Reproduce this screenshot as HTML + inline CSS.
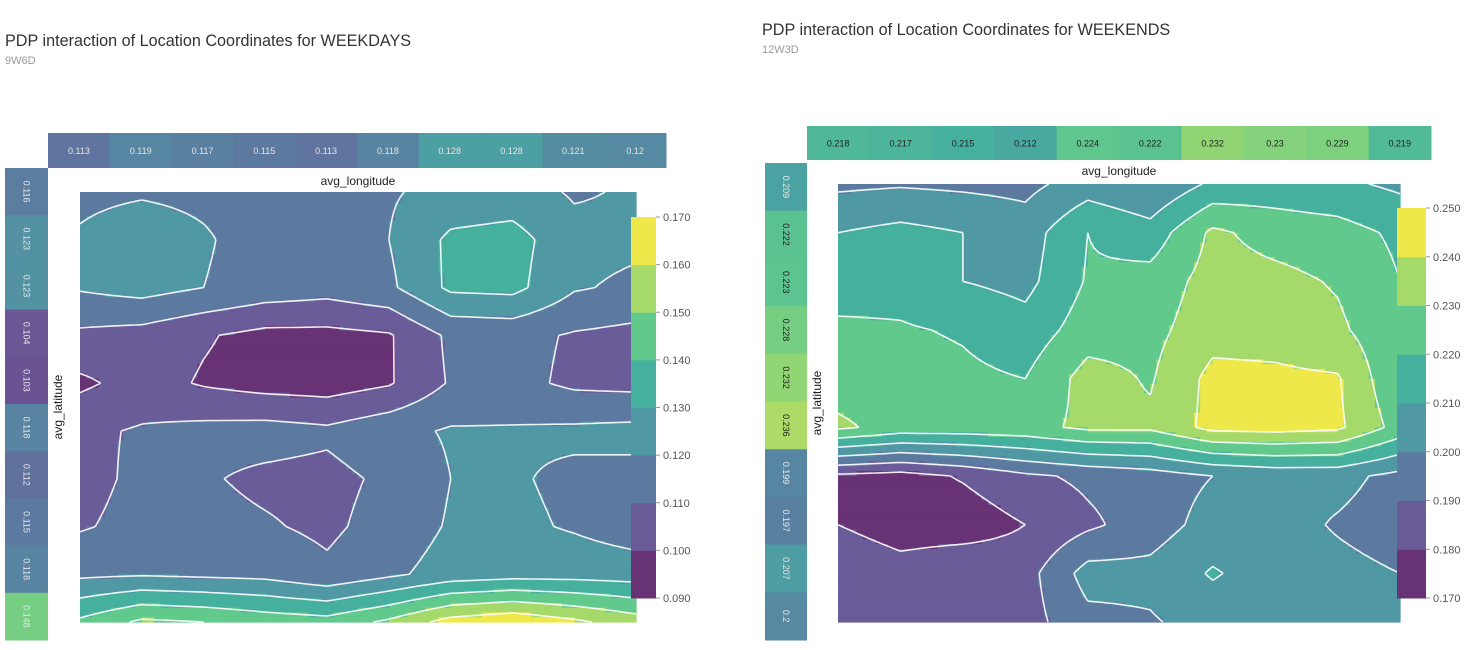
<!DOCTYPE html>
<html><head><meta charset="utf-8">
<style>
body{margin:0;background:#fff;width:1474px;height:650px;overflow:hidden;font-family:"Liberation Sans","DejaVu Sans",sans-serif;}
svg{position:absolute;left:0;top:0;}
</style></head>
<body>
<svg id="s" width="1474" height="650" xmlns="http://www.w3.org/2000/svg">
<text x="5" y="46" font-size="16.2" fill="#333">PDP interaction of Location Coordinates for WEEKDAYS</text>
<text x="5" y="64" font-size="11" fill="#999">9W6D</text>
<text x="762" y="35" font-size="16.2" fill="#333">PDP interaction of Location Coordinates for WEEKENDS</text>
<text x="762" y="53" font-size="11" fill="#999">12W3D</text>
</svg>
<script>
const bandColors=['#673374','#6a5b99','#5c7aa0','#4f98a4','#46b09e','#62c98c','#a5da6a','#eee84a'];
const levelsL=[0.09,0.10,0.11,0.12,0.13,0.14,0.15,0.16,0.17];
const levelsR=[0.17,0.18,0.19,0.20,0.21,0.22,0.23,0.24,0.25];
const lonValsL=[0.113,0.119,0.117,0.115,0.113,0.118,0.128,0.128,0.121,0.12];
const latValsL=[0.116,0.123,0.123,0.104,0.103,0.118,0.112,0.115,0.118,0.148];
const lonValsR=[0.218,0.217,0.215,0.212,0.224,0.222,0.232,0.23,0.229,0.219];
const latValsR=[0.209,0.222,0.223,0.228,0.232,0.236,0.199,0.197,0.207,0.2];
const gridL=[
[0.118,0.119,0.118,0.117,0.116,0.119,0.123,0.124,0.119,0.121],
[0.121,0.125,0.121,0.116,0.116,0.120,0.132,0.134,0.123,0.122],
[0.121,0.124,0.120,0.116,0.114,0.118,0.132,0.133,0.121,0.118],
[0.108,0.106,0.101,0.097,0.097,0.099,0.112,0.113,0.109,0.107],
[0.098,0.104,0.099,0.096,0.095,0.099,0.111,0.113,0.108,0.107],
[0.108,0.111,0.113,0.114,0.112,0.117,0.121,0.121,0.122,0.123],
[0.107,0.112,0.111,0.108,0.107,0.112,0.120,0.121,0.118,0.117],
[0.109,0.113,0.113,0.111,0.108,0.114,0.121,0.122,0.119,0.115],
[0.118,0.119,0.118,0.117,0.112,0.118,0.124,0.126,0.126,0.125],
[0.142,0.152,0.150,0.146,0.144,0.152,0.164,0.168,0.162,0.155]];
const gridR=[
[0.198,0.199,0.198,0.197,0.205,0.200,0.212,0.214,0.212,0.208],
[0.210,0.213,0.210,0.205,0.220,0.214,0.232,0.226,0.224,0.218],
[0.215,0.216,0.210,0.207,0.221,0.224,0.234,0.233,0.229,0.220],
[0.222,0.221,0.219,0.214,0.225,0.227,0.236,0.236,0.232,0.222],
[0.225,0.224,0.222,0.220,0.234,0.229,0.243,0.242,0.241,0.221],
[0.232,0.226,0.226,0.227,0.232,0.232,0.243,0.244,0.242,0.226],
[0.178,0.176,0.181,0.188,0.192,0.195,0.200,0.203,0.203,0.197],
[0.180,0.174,0.174,0.180,0.188,0.195,0.204,0.204,0.199,0.195],
[0.190,0.185,0.189,0.186,0.204,0.203,0.211,0.205,0.203,0.200],
[0.187,0.186,0.184,0.186,0.197,0.199,0.204,0.203,0.202,0.203]];

const NS='http://www.w3.org/2000/svg';
const svg=document.getElementById('s');
function mk(tag,attrs,parent){const e=document.createElementNS(NS,tag);for(const k in attrs)e.setAttribute(k,attrs[k]);(parent||svg).appendChild(e);return e;}
function hex(c){return [parseInt(c.slice(1,3),16),parseInt(c.slice(3,5),16),parseInt(c.slice(5,7),16)];}
function contColor(v,lv){
  const t=(v-lv[0])/(lv[lv.length-1]-lv[0])*8-0.5;
  const i=Math.max(0,Math.min(7,Math.floor(t)));const j=Math.min(7,i+1);
  const f=Math.max(0,Math.min(1,t-i));
  const a=hex(bandColors[i]),b=hex(bandColors[j]);
  return 'rgb('+a.map((x,k)=>Math.round(x+(b[k]-x)*f)).join(',')+')';
}
function band(v,lv){for(let k=0;k<8;k++){if(v<lv[k+1])return Math.max(0,k);}return 7;}

function chart(cfg){
  const g=mk('g',{});
  
  
  const {grid,lv,x0,y0,w,h}=cfg;
  const n=grid.length,m=grid[0].length,S=10;
  const R=(n-1)*S,C=(m-1)*S;
  const val=(fi,fj)=>{const i=Math.min(n-2,Math.floor(fi/S)),j=Math.min(m-2,Math.floor(fj/S));
    const u=fi/S-i,v=fj/S-j;
    return grid[i][j]*(1-u)*(1-v)+grid[i][j+1]*(1-u)*v+grid[i+1][j]*u*(1-v)+grid[i+1][j+1]*u*v;};
  const F=[];for(let i=0;i<=R;i++){F.push([]);for(let j=0;j<=C;j++)F[i].push(val(i,j));}
  const cw=w/C,ch=h/R;
  const fills=mk('g',{},g);
  
  
  for(let i=0;i<R;i++){
    let start=0,cur=band((F[i][0]+F[i+1][0]+F[i][1]+F[i+1][1])/4,lv);
    for(let j=1;j<=C;j++){
      const b=j<C?band((F[i][j]+F[i+1][j]+F[i][j+1]+F[i+1][j+1])/4,lv):-1;
      if(b!==cur){
        mk('rect',{x:(x0+start*cw).toFixed(2),y:(y0+i*ch).toFixed(2),width:((j-start)*cw+0.6).toFixed(2),height:(ch+0.6).toFixed(2),fill:bandColors[cur]},fills);
        start=j;cur=b;
      }
    }
  }
  let d='';
  for(let k=1;k<lv.length-1;k++){
    const L=lv[k];
    for(let i=0;i<R;i++)for(let j=0;j<C;j++){
      const c=[[i,j],[i,j+1],[i+1,j+1],[i+1,j]];
      const pts=[];
      for(let e=0;e<4;e++){
        const p=c[e],q=c[(e+1)%4];const a=F[p[0]][p[1]],b=F[q[0]][q[1]];
        if((a<L)!==(b<L)){const t=(L-a)/(b-a);
          pts.push([x0+(p[1]+(q[1]-p[1])*t)*cw,y0+(p[0]+(q[0]-p[0])*t)*ch]);}
      }
      for(let e=0;e+1<pts.length;e+=2)d+='M'+pts[e][0].toFixed(1)+' '+pts[e][1].toFixed(1)+'L'+pts[e+1][0].toFixed(1)+' '+pts[e+1][1].toFixed(1);
    }
  }
  const lines=mk('path',{d:d,stroke:'#fff','stroke-width':1.6,fill:'none','stroke-opacity':0.9},g);
  
  
  const cb=cfg.cb;const bh=cb.h/8;
  for(let k=0;k<8;k++){
    const r=mk('rect',{x:cb.x,y:cb.y+cb.h-(k+1)*bh,width:cb.w,height:bh+0.5,fill:bandColors[k]},g);
    
    
  }
  for(let k=0;k<9;k++){
    const yy=cb.y+cb.h-k*bh;
    mk('line',{x1:cb.x+cb.w,x2:cb.x+cb.w+4,y1:yy,y2:yy,stroke:'#999'},g);
    const t=mk('text',{x:cb.x+cb.w+7,y:yy+4,'font-size':11,fill:'#555'},g);
    t.textContent=lv[k].toFixed(3);
    
    
  }
  const ts=cfg.top,tw=ts.w/cfg.lon.length;
  cfg.lon.forEach((v,k)=>{
    const r=mk('rect',{x:ts.x+k*tw,y:ts.y,width:tw+0.5,height:ts.h,fill:contColor(v,lv)},g);
    
    
    const t=mk('text',{x:ts.x+(k+0.5)*tw,y:ts.y+ts.h/2+3.5,'font-size':9,'text-anchor':'middle',fill:cfg.topText},g);
    t.textContent=String(v);
    
    
  });
  const ls=cfg.left,lh=ls.h/cfg.lat.length;
  cfg.lat.forEach((v,k)=>{
    const r=mk('rect',{x:ls.x,y:ls.y+k*lh,width:ls.w,height:lh+0.5,fill:contColor(v,lv)},g);
    
    
    const cx=ls.x+ls.w/2,cy=ls.y+(k+0.5)*lh;
    const t=mk('text',{x:cx,y:cy+3,'font-size':9,'text-anchor':'middle',fill:(cfg.leftDark&&v>=cfg.leftDark)?'#222':'#e6e6e6',transform:'rotate(90 '+cx+' '+cy+')'},g);
    t.textContent=String(v);
    
    
  });
  const xl=mk('text',{x:x0+w/2,y:cfg.xlY,'font-size':12,'text-anchor':'middle',fill:'#222'},g);
  xl.textContent='avg_longitude';
  
  
  const yl=mk('text',{x:cfg.ylX,y:y0+h/2,'font-size':12,'text-anchor':'middle',fill:'#222',transform:'rotate(-90 '+cfg.ylX+' '+(y0+h/2)+')'},g);
  yl.textContent='avg_latitude';
  
  
}
chart({name:'weekdays-contour-chart',grid:gridL,lv:levelsL,x0:80,y0:192,w:556,h:430,
  cb:{x:631,y:217,w:25,h:381},top:{x:48,y:133,w:618,h:35},left:{x:5,y:168,w:43,h:472},
  lon:lonValsL,lat:latValsL,topText:'#e6e6e6',leftDark:0,xlY:185,ylX:62});
chart({name:'weekends-contour-chart',grid:gridR,lv:levelsR,x0:838,y0:184,w:562,h:438,
  cb:{x:1397,y:208,w:29,h:390},top:{x:807,y:126,w:624,h:34},left:{x:765,y:163,w:42,h:477},
  lon:lonValsR,lat:latValsR,topText:'#222',leftDark:0.22,xlY:175,ylX:821});
</script>
</body></html>
